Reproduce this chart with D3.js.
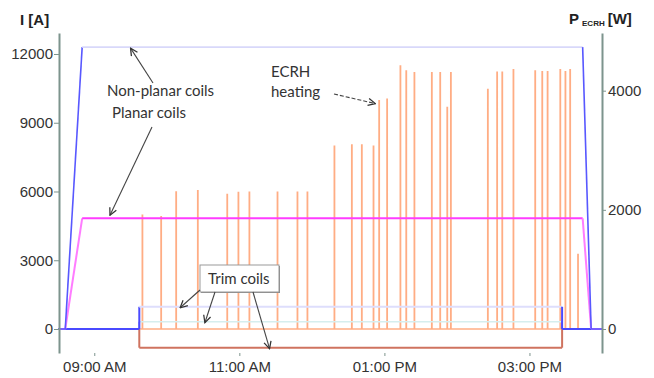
<!DOCTYPE html>
<html>
<head>
<meta charset="utf-8">
<script src="https://cdn.jsdelivr.net/npm/d3@7"></script>
<style>
  html, body { margin: 0; padding: 0; background: #fff; }
  svg { display: block; }
  .tick text { font-family: "Liberation Sans", Arial, sans-serif; font-size: 15px; fill: #333; }
  .note { font-family: Lato, "Open Sans", sans-serif; font-size: 15px; fill: #333; }
</style>
</head>
<body>
<div id="chart"></div>
<script>
// coil currents [A]
const nonPlanarTimes = ['08:30:00', '08:36:00', '08:50:00', '15:44:00', '15:51:00', '16:00:00'];
const nonPlanarValues = [0, 0, 12300, 12300, 0, 0];
const planarTimes = ['08:30:00', '08:36:00', '08:50:00', '15:44:00', '15:51:00', '16:00:00'];
const planarValues = [0, 0, 4830, 4830, 0, 0];

// trim coils switch on / off together (step curves)
const trimTimes = ['08:30:00', '09:37:15', '15:27:00', '16:00:00'];
const trimA = [0, 970, 0, 0];
const trimB = [0, 318, 0, 0];
const trimC = [0, -816, 0, 0];

// ECRH heating pulses [W]
const ecrhStart = '09:38:00';
const ecrhEnd = '15:41:00';
const ecrhTimes = ['09:39:40', '09:55:10', '10:07:35', '10:25:30', '10:49:50', '10:59:05', '11:08:10',
  '11:31:25', '11:47:55', '11:56:10', '12:18:30', '12:32:55', '12:41:10', '12:50:50', '12:55:30',
  '13:02:05', '13:13:05', '13:17:55', '13:24:40', '13:39:05', '13:46:00', '13:51:50', '13:54:50',
  '14:25:25', '14:33:05', '14:37:20', '14:46:35', '15:04:35', '15:10:25', '15:14:50', '15:25:20',
  '15:29:35', '15:33:30', '15:40:00'];
const ecrhPower = [1910, 1885, 2300, 2320, 2260, 2290, 2295, 2295, 2295, 2295, 3070, 3090, 3090, 3070,
  3830, 3855, 4415, 4330, 4300, 4300, 4300, 3720, 4300, 4020, 4310, 4310, 4350, 4330, 4320, 4320,
  4350, 4320, 4350, 1250];
const pulseSeconds = 20;

const xTicks = ['09:00:00', '11:00:00', '13:00:00', '15:00:00'];
const leftTicks = [0, 3000, 6000, 9000, 12000];
const rightTicks = [0, 2000, 4000];

const parse = d3.timeParse('%H:%M:%S');
const width = 654, height = 378;

const svg = d3.select('#chart').append('svg')
  .attr('width', width)
  .attr('height', height);

const x = d3.scaleTime()
  .domain([parse('08:30:00'), parse('16:00:00')])
  .range([58, 602]);
const yL = d3.scaleLinear().domain([-1047, 12916]).range([353, 33]);
const yR = d3.scaleLinear().domain([-403, 4968]).range([353, 33]);

// arrow heads
const defs = svg.append('defs');
defs.append('marker')
  .attr('id', 'arrow')
  .attr('viewBox', '0 0 10 10')
  .attr('refX', 9).attr('refY', 5)
  .attr('markerWidth', 9).attr('markerHeight', 9)
  .attr('markerUnits', 'userSpaceOnUse')
  .attr('orient', 'auto')
  .append('path')
  .attr('d', 'M1,1 L9,5 L1,9')
  .attr('fill', 'none')
  .attr('stroke', '#333')
  .attr('stroke-width', 1.4);

const toPoints = (times, values) => times.map((t, i) => ({t: parse(t), v: values[i]}));

// draws a series; horizontal non-zero runs get the pale colour, the rest the strong one
function drawSeries(points, y, flat, strong, w) {
  const g = svg.append('g').attr('fill', 'none').attr('stroke-width', w);
  const segs = d3.pairs(points);
  g.selectAll('line')
    .data(segs)
    .enter().append('line')
    .attr('x1', d => x(d[0].t))
    .attr('y1', d => y(d[0].v))
    .attr('x2', d => x(d[1].t))
    .attr('y2', d => y(d[1].v))
    .attr('stroke', d => (d[0].v === d[1].v && d[0].v !== 0) ? flat : strong);
}

function stepPoints(times, values) {
  const pts = [];
  times.forEach((t, i) => {
    if (i > 0) pts.push({t: parse(t), v: values[i - 1]});
    pts.push({t: parse(t), v: values[i]});
  });
  return pts;
}

// ECRH pulses (right axis)
const ecrhPts = [{t: parse(ecrhStart), v: 0}];
ecrhTimes.forEach((t, i) => {
  const t0 = parse(t);
  const t1 = d3.timeSecond.offset(t0, pulseSeconds);
  ecrhPts.push({t: t0, v: 0}, {t: t0, v: ecrhPower[i]}, {t: t1, v: ecrhPower[i]}, {t: t1, v: 0});
});
ecrhPts.push({t: parse(ecrhEnd), v: 0});
ecrhPts.sort((a, b) => a.t - b.t);

svg.append('path')
  .datum(ecrhPts)
  .attr('fill', 'none')
  .attr('stroke', '#ff8a50')
  .attr('stroke-opacity', 0.7)
  .attr('stroke-width', 1.4)
  .attr('d', d3.line().x(d => x(d.t)).y(d => yR(d.v)));

drawSeries(stepPoints(trimTimes, trimB), yL, '#d6eeee', '#5a5aff', 1.5);
drawSeries(stepPoints(trimTimes, trimC), yL, '#cf735f', '#cf735f', 2);
drawSeries(stepPoints(trimTimes, trimA), yL, '#dedefc', '#4a4aff', 2);
drawSeries(toPoints(planarTimes, planarValues), yL, '#ff3cff', '#ff7cff', 2);
drawSeries(toPoints(nonPlanarTimes, nonPlanarValues), yL, '#d8d8fa', '#5858ff', 1.6);

// axes
const leftAxis = svg.append('g')
  .attr('transform', 'translate(59,0)')
  .call(d3.axisLeft(yL).tickValues(leftTicks).tickSize(5).tickSizeOuter(0).tickPadding(1)
    .tickFormat(d3.format('d')));
const rightAxis = svg.append('g')
  .attr('transform', 'translate(602,0)')
  .call(d3.axisRight(yR).tickValues(rightTicks).tickSize(4).tickSizeOuter(0).tickPadding(2)
    .tickFormat(d3.format('d')));
const bottomAxis = svg.append('g')
  .attr('transform', 'translate(0,353)')
  .call(d3.axisBottom(x).tickValues(xTicks.map(parse)).tickSize(3).tickPadding(5)
    .tickFormat(d3.timeFormat('%I:%M %p')));
bottomAxis.select('.domain').remove();

[leftAxis, rightAxis].forEach(a => a.select('.domain').attr('stroke', '#7d948d').attr('stroke-width', 2));
[leftAxis, rightAxis, bottomAxis].forEach(a => a.selectAll('.tick line').attr('stroke', '#7d948d'));

// axis titles
svg.append('text')
  .attr('x', 20).attr('y', 25)
  .attr('font-family', 'Liberation Sans, Arial, sans-serif')
  .attr('font-size', 15).attr('font-weight', 'bold').attr('fill', '#222')
  .text('I [A]');
const pTitle = svg.append('text')
  .attr('x', 569).attr('y', 24)
  .attr('font-family', 'Liberation Sans, Arial, sans-serif')
  .attr('font-weight', 'bold').attr('fill', '#222');
pTitle.append('tspan').attr('font-size', 15).text('P');
pTitle.append('tspan').attr('font-size', 8).attr('dx', 3).attr('dy', 2).text('ECRH');
pTitle.append('tspan').attr('font-size', 15).attr('dx', 3).attr('dy', -2).text('[W]');

// annotations
const note = (tx, ty, s) => svg.append('text').attr('class', 'note').attr('x', tx).attr('y', ty).text(s);
const arrow = (x1, y1, x2, y2, dash) => svg.append('line')
  .attr('x1', x1).attr('y1', y1).attr('x2', x2).attr('y2', y2)
  .attr('stroke', '#444').attr('stroke-width', 1.1)
  .attr('stroke-dasharray', dash || null)
  .attr('marker-end', 'url(#arrow)');

note(107, 96, 'Non-planar coils');
note(112, 118, 'Planar coils');
note(271, 77, 'ECRH');
note(271, 97, 'heating');

arrow(153, 83, x(parse('09:30:00')), yL(12300) + 1);
arrow(152, 127, x(parse('09:13:00')), yL(planarValues[2]) - 3);
arrow(334, 94, x(parse('12:55:00')) - 3, yR(3850) + 4, '4,2');

// trim coils call-out box
const box = svg.append('g');
box.append('rect').attr('x', 201).attr('y', 266).attr('width', 79).attr('height', 27).attr('fill', '#888');
box.append('rect').attr('x', 200).attr('y', 265).attr('width', 79).attr('height', 27)
  .attr('fill', '#fff').attr('stroke', '#999');
note(208, 284, 'Trim coils');
arrow(200, 290, x(parse('10:11:00')), yL(trimA[1]) + 1);
arrow(215, 292, x(parse('10:31:30')), yL(trimB[1]) + 1);
arrow(253, 292, x(parse('11:25:00')), yL(trimC[1]) + 1);
</script>
</body>
</html>
